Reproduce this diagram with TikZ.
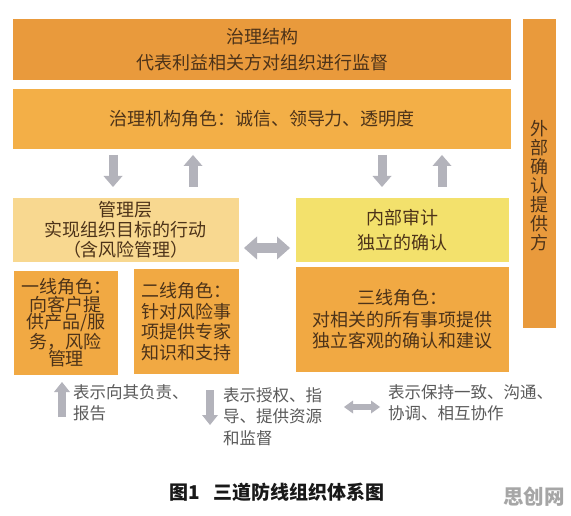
\documentclass[tikz,border=0pt]{standalone}
\usepackage{fontspec}
\setmainfont{Noto Sans CJK SC}
\usetikzlibrary{arrows.meta}
\definecolor{cTop}{HTML}{E99A3C}
\definecolor{cGov}{HTML}{F3AF47}
\definecolor{cMgmt}{HTML}{F8D890}
\definecolor{cAudit}{HTML}{F3E16C}
\definecolor{cLine}{HTML}{F1A943}
\definecolor{txt}{HTML}{4D3319}
\definecolor{legtxt}{HTML}{5A5A5A}
\definecolor{arrgray}{HTML}{B3B3BB}
\definecolor{wmark}{HTML}{A6A6A6}
\begin{document}
\begin{tikzpicture}[x=1pt,y=-1pt,
  box/.style={inner sep=0pt, outer sep=0pt, align=center, text=txt, font=\fontsize{18}{20}\selectfont},
  vlab/.style={inner sep=0pt, align=center, text=txt, font=\fontsize{18}{19}\selectfont, yshift=-12.5pt},
  legtext/.style={inner sep=0pt, outer sep=0pt, align=left, text=legtxt, font=\fontsize{16.5}{21}\selectfont, anchor=west},
  garrow/.style={draw=arrgray, line width=9pt, -{Triangle[width=19pt,length=11pt,line width=0pt]}},
  gdouble/.style={draw=arrgray, line width=10pt, {Triangle[width=23pt,length=13pt,line width=0pt]}-{Triangle[width=23pt,length=13pt,line width=0pt]}},
  larrow/.style={draw=arrgray, line width=8pt, -{Triangle[width=16pt,length=10pt,line width=0pt]}},
  ldouble/.style={draw=arrgray, line width=6pt, {Triangle[width=13pt,length=9pt,line width=0pt]}-{Triangle[width=13pt,length=9pt,line width=0pt]}}
]
\fill[white] (0,0) rectangle (571,516);
\useasboundingbox (0,0) rectangle (571,516);

% governance boxes
\node[box, fill=cTop, minimum width=498pt, minimum height=61pt, font=\fontsize{18}{26}\selectfont] (gov1) at (262,49.5) {治理结构\\代表利益相关方对组织进行监督};
\node[box, fill=cGov, minimum width=498pt, minimum height=60pt] (gov2) at (262,119) {治理机构角色：诚信、领导力、透明度};

% external assurance bar
\node[box, fill=cTop, minimum width=33pt, minimum height=309pt,
  label={[vlab]center:{外\\部\\确\\认\\提\\供\\方}}] (ext) at (539,173.5) {};

% management and internal audit
\node[box, fill=cMgmt, minimum width=226pt, minimum height=64pt] (mgmt) at (126,230) {管理层\\实现组织目标的行动\\（含风险管理）};
\node[box, fill=cAudit, minimum width=213pt, minimum height=64pt, font=\fontsize{18}{25}\selectfont] (audit) at (402.5,230) {内部审计\\独立的确认};

% lines of defence
\node[box, fill=cLine, minimum width=104pt, minimum height=104pt, font=\fontsize{18}{17.5}\selectfont] (line1) at (66,323) {一线角色：\\向客户提\\供产品/服\\务，风险\\管理};
\node[box, fill=cLine, minimum width=105pt, minimum height=105pt, font=\fontsize{18}{20.5}\selectfont] (line2) at (186.5,321.5) {二线角色：\\针对风险事\\项提供专家\\知识和支持};
\node[box, fill=cLine, minimum width=213pt, minimum height=105pt, font=\fontsize{18}{21.5}\selectfont] (line3) at (402.5,319.5) {三线角色：\\对相关的所有事项提供\\独立客观的确认和建议};

% vertical arrows between governance and lower boxes
\draw[garrow] ([xshift=100pt,yshift=-6pt]gov2.south west) -- ([xshift=100pt,yshift=11pt]mgmt.north west);
\draw[garrow] ([xshift=180pt,yshift=11pt]mgmt.north west) -- ([xshift=180pt,yshift=-6pt]gov2.south west);
\draw[garrow] ([xshift=369pt,yshift=-6pt]gov2.south west) -- ([xshift=86pt,yshift=11pt]audit.north west);
\draw[garrow] ([xshift=146pt,yshift=11pt]audit.north west) -- ([xshift=429pt,yshift=-6pt]gov2.south west);

% horizontal double arrow
\draw[gdouble] ([xshift=5pt,yshift=-18pt]mgmt.east) -- ([xshift=-6pt,yshift=-18pt]audit.west);

% legend
\node[legtext] (leg1) at (73,402.5) {表示向其负责、\\报告};
\node[legtext, font=\fontsize{16.5}{21.5}\selectfont] (leg2) at (223,416.5) {表示授权、指\\导、提供资源\\和监督};
\node[legtext] (leg3) at (388,402.5) {表示保持一致、沟通、\\协调、相互协作};
\draw[larrow] ([xshift=-11pt,yshift=-14.5pt]leg1.west) -- ([xshift=-11pt,yshift=20.5pt]leg1.west);
\draw[larrow] ([xshift=-13pt,yshift=26.5pt]leg2.west) -- ([xshift=-13pt,yshift=-8.5pt]leg2.west);
\draw[ldouble] ([xshift=-44pt,yshift=-4.5pt]leg3.west) -- ([xshift=-8pt,yshift=-4.5pt]leg3.west);

% caption and watermark
\node[inner sep=0pt, text=black!90, font=\fontsize{19}{22}\selectfont\bfseries] (cap) at (277,492) {图1\hspace{0.7em}三道防线组织体系图};
\node[inner sep=0pt, text=wmark, font=\fontsize{20.5}{22}\selectfont\bfseries] (wm) at (534,497) {思创网};
\end{tikzpicture}
\end{document}
